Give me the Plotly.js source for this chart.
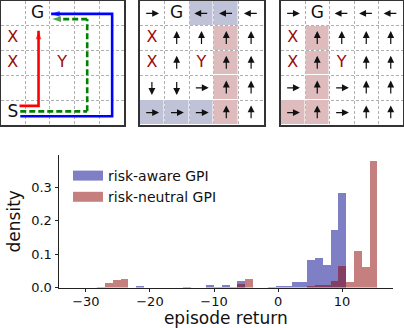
<!DOCTYPE html>
<html>
<head>
<meta charset="utf-8">
<script src="https://cdn.plot.ly/plotly-3.0.1.min.js"></script>
<style>
  html, body { margin: 0; padding: 0; background: #fff; }
  #chart { width: 404px; height: 328px; }
</style>
</head>
<body>
<div id="chart"></div>
<script>
// ---- grid world panels ----
var startLabels = [
  ['', 'G', '', '', ''],
  ['X', '', '', '', ''],
  ['X', '', 'Y', '', ''],
  ['', '', '', '', ''],
  ['S', '', '', '', '']
];
var policyAware = [
  ['R', 'G', 'L', 'L', 'L'],
  ['X', 'U', 'U', 'U', 'U'],
  ['X', 'U', 'Y', 'U', 'U'],
  ['D', 'D', 'R', 'U', 'U'],
  ['R', 'R', 'R', 'U', 'U']
];
var policyNeutral = [
  ['R', 'G', 'L', 'L', 'L'],
  ['X', 'U', 'U', 'U', 'U'],
  ['X', 'U', 'Y', 'U', 'U'],
  ['R', 'U', 'R', 'U', 'U'],
  ['R', 'U', 'R', 'U', 'U']
];
// 0 = none, 1 = blue-ish, 2 = red-ish
var shadeAware = [
  [0, 0, 1, 1, 0],
  [0, 0, 0, 2, 0],
  [0, 0, 0, 2, 0],
  [0, 0, 0, 2, 0],
  [1, 1, 1, 2, 0]
];
var shadeNeutral = [
  [0, 0, 0, 0, 0],
  [0, 2, 0, 0, 0],
  [0, 2, 0, 0, 0],
  [0, 2, 0, 0, 0],
  [2, 2, 0, 0, 0]
];

// paths in panel 1 (grid units: col, row from top)
var redPathX = [0.77, 1.54, 1.54];
var redPathY = [4.23, 4.23, 1.2];
var greenPathX = [0.8, 3.51, 3.51, 2.1];
var greenPathY = [4.45, 4.45, 0.73, 0.73];
var bluePathX = [0.8, 4.52, 4.52, 2.05];
var bluePathY = [4.65, 4.65, 0.52, 0.52];

// ---- histogram ----
var binWidth = 1.2143;
var binCenters = [-27.61, -26.39, -25.18, -23.96, -21.54, -14.25, -10.61, -9.39, -8.18, -6.96,
  -5.75, -4.54, -0.89, 0.32, 1.54, 2.75, 3.96, 5.18, 6.39, 7.61, 8.82, 10.04, 11.25, 12.46, 13.68, 14.89];
var riskAware = [0, 0, 0, 0, 0.004, 0.002, 0.007, 0.002, 0.009, 0.003,
  0.019, 0, 0.002, 0.006, 0.006, 0.016, 0.018, 0.083, 0.09, 0.068, 0.173, 0.285, 0, 0, 0, 0];
var riskNeutral = [0.003, 0.013, 0.023, 0.025, 0, 0, 0, 0, 0, 0,
  0.012, 0.026, 0, 0, 0, 0, 0, 0.006, 0.009, 0.009, 0.021, 0.065, 0.018, 0.109, 0.062, 0.379];
var xTicks = [-30, -20, -10, 0, 10];
var yTicks = [0, 0.1, 0.2, 0.3];

var FONT = 'DejaVu Sans';
var dirs = {R: [1, 0], L: [-1, 0], U: [0, -1], D: [0, 1]};
var annotations = [];

function cellTraces(grid, xa, ya) {
  var black = {x: [], y: [], t: []}, red = {x: [], y: [], t: []};
  var half = 0.29;
  grid.forEach(function (row, r) {
    row.forEach(function (c, k) {
      if (!c) return;
      var cx = k + 0.5, cy = r + 0.5;
      if (dirs[c]) {
        var d = dirs[c];
        annotations.push({xref: xa, yref: ya, axref: xa, ayref: ya,
          x: cx + d[0] * half, y: cy + d[1] * half, ax: cx - d[0] * half, ay: cy - d[1] * half,
          text: '', showarrow: true, arrowhead: 2, arrowsize: 1.15, arrowwidth: 1.2,
          arrowcolor: '#111', standoff: 0, startstandoff: 0});
        return;
      }
      var tgt = (c === 'X' || c === 'Y') ? red : black;
      tgt.x.push(cx); tgt.y.push(cy); tgt.t.push(c);
    });
  });
  function tr(d, color, size) {
    return {type: 'scatter', mode: 'text', x: d.x, y: d.y, text: d.t, xaxis: xa, yaxis: ya,
      textposition: 'middle center', textfont: {family: FONT, size: size, color: color},
      hoverinfo: 'skip', showlegend: false};
  }
  return [tr(black, '#111', 17), tr(red, '#9b0a0a', 16)];
}

function shadeTrace(shade, xa, ya) {
  return {type: 'heatmap', xaxis: xa, yaxis: ya,
    x: [0.5, 1.5, 2.5, 3.5, 4.5], y: [0.5, 1.5, 2.5, 3.5, 4.5],
    z: shade.map(function (row) { return row.map(function (v) { return v ? v : null; }); }),
    zmin: 0, zmax: 2, showscale: false, xgap: 1, ygap: 1, hoverinfo: 'skip',
    colorscale: [[0, '#ffffff'], [0.5, 'rgb(192,194,216)'], [1, 'rgb(222,188,190)']]};
}

function pathTrace(px, py, color, dash) {
  return {type: 'scatter', mode: 'lines+markers', x: px, y: py, xaxis: 'x', yaxis: 'y',
    line: {color: color, width: 2.6, dash: dash},
    marker: {color: color, symbol: px.map(function (v, i) { return i === px.length - 1 ? 'arrow' : 'circle'; }),
      size: px.map(function (v, i) { return i === px.length - 1 ? 9 : 0; }), angleref: 'previous',
      line: {width: 0}},
    hoverinfo: 'skip', showlegend: false};
}

var data = [];
data.push(pathTrace(bluePathX, bluePathY, '#0000ff', 'solid'));
data.push(pathTrace(greenPathX, greenPathY, '#008000', '6px,3px'));
data.push(pathTrace(redPathX, redPathY, '#ff0000', 'solid'));
data = data.concat(cellTraces(startLabels, 'x', 'y'));
data.push(shadeTrace(shadeAware, 'x2', 'y2'));
data = data.concat(cellTraces(policyAware, 'x2', 'y2'));
data.push(shadeTrace(shadeNeutral, 'x3', 'y3'));
data = data.concat(cellTraces(policyNeutral, 'x3', 'y3'));

var blueFill = 'rgba(0,0,139,0.5)', redFill = 'rgba(139,0,0,0.5)';
data.push({type: 'bar', x: binCenters, y: riskAware, width: binWidth, xaxis: 'x4', yaxis: 'y4',
  marker: {color: blueFill, line: {width: 0}}, showlegend: false, hoverinfo: 'skip'});
data.push({type: 'bar', x: binCenters, y: riskNeutral, width: binWidth, xaxis: 'x4', yaxis: 'y4',
  marker: {color: redFill, line: {width: 0}}, showlegend: false, hoverinfo: 'skip'});
// legend entries
data.push({type: 'scatter', mode: 'lines', x: [null], y: [null], xaxis: 'x4', yaxis: 'y4',
  name: 'risk-aware GPI', line: {color: blueFill, width: 10}});
data.push({type: 'scatter', mode: 'lines', x: [null], y: [null], xaxis: 'x4', yaxis: 'y4',
  name: 'risk-neutral GPI', line: {color: redFill, width: 10}});

function gridX(d0, d1, anchor) {
  return {domain: [d0, d1], range: [0, 5], anchor: anchor, tickvals: [1, 2, 3, 4], showticklabels: false,
    ticks: '', showgrid: true, gridcolor: '#b0b0b0', gridwidth: 1, griddash: '3px,2px',
    showline: true, mirror: true, linecolor: '#333', linewidth: 2, zeroline: false, fixedrange: true};
}
function gridY(anchor) {
  var a = gridX(1 - 125 / 328, 1 - 1 / 328, anchor);
  a.range = [5, 0];
  return a;
}

var layout = {
  width: 404, height: 328,
  margin: {l: 0, r: 0, t: 0, b: 0},
  paper_bgcolor: '#fff', plot_bgcolor: 'rgba(0,0,0,0)',
  font: {family: FONT, color: '#111'},
  barmode: 'overlay', bargap: 0,
  showlegend: true,
  annotations: annotations,
  legend: {x: 68 / 404, y: 1 - 160 / 328, xanchor: 'left', yanchor: 'top',
    bgcolor: 'rgba(0,0,0,0)', font: {family: FONT, size: 14, color: '#111'}},
  xaxis: gridX(0.5 / 404, 124 / 404, 'y'),
  yaxis: gridY('x'),
  xaxis2: gridX(139.5 / 404, 263.5 / 404, 'y2'),
  yaxis2: gridY('x2'),
  xaxis3: gridX(280.5 / 404, 403 / 404, 'y3'),
  yaxis3: gridY('x3'),
  xaxis4: {domain: [59 / 404, 392.7 / 404], anchor: 'y4', range: [-34.2, 17.9],
    tickvals: xTicks, ticks: 'outside', ticklen: 3.5, tickwidth: 1, tickcolor: '#222',
    showgrid: false, zeroline: false, showline: true, linecolor: '#222', linewidth: 1,
    ticklabelstandoff: -2,
    tickfont: {family: FONT, size: 13, color: '#111'},
    title: {text: 'episode return', font: {family: FONT, size: 17, color: '#111'}, standoff: 2}},
  yaxis4: {domain: [1 - 287.5 / 328, 1 - 155 / 328], anchor: 'x4', range: [0, 0.398],
    tickvals: yTicks, tickformat: '.1f', ticks: 'outside', ticklen: 3.5, tickwidth: 1, tickcolor: '#222',
    showgrid: false, zeroline: false, showline: true, linecolor: '#222', linewidth: 1,
    tickfont: {family: FONT, size: 13, color: '#111'},
    title: {text: 'density', font: {family: FONT, size: 17, color: '#111'}, standoff: 6}}
};

Plotly.newPlot('chart', data, layout, {displayModeBar: false, staticPlot: true});
</script>
</body>
</html>
